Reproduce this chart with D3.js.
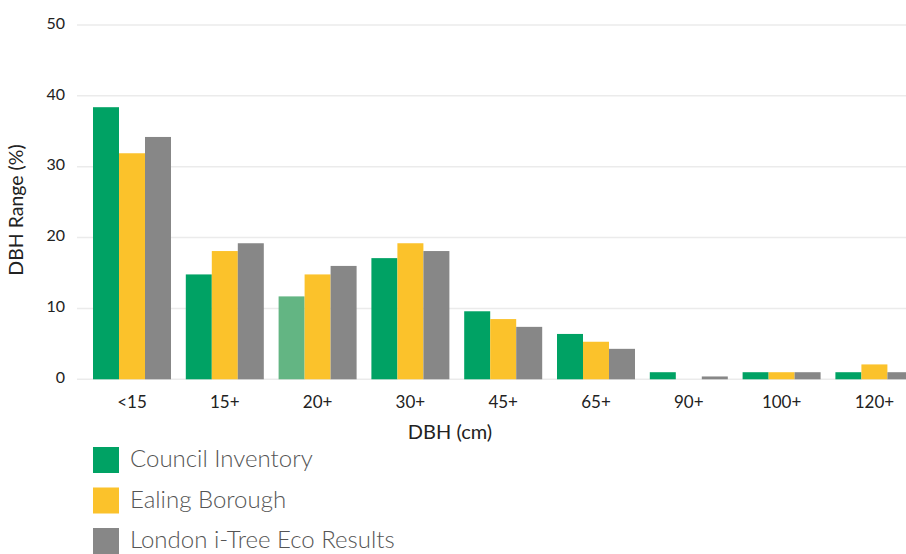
<!DOCTYPE html>
<html>
<head>
<meta charset="utf-8">
<script src="https://cdn.jsdelivr.net/npm/d3@7"></script>
<style>
html,body{margin:0;padding:0;background:#fff;}
svg{display:block;}
</style>
</head>
<body>
<svg id="chart" width="906" height="554"></svg>
<script>
const categories = ["<15","15+","20+","30+","45+","65+","90+","100+","120+"];
const seriesNames = ["Council Inventory","Ealing Borough","London i-Tree Eco Results"];
const councilInventory = [38.4,14.8,11.7,17.1,9.6,6.4,1.0,1.0,1.0];
const ealingBorough = [31.9,18.1,14.8,19.2,8.5,5.3,0,1.0,2.1];
const londonITree = [34.2,19.2,16.0,18.1,7.4,4.3,0.4,1.0,1.0];
const yTicks = [0,10,20,30,40,50];
const colors = ["#00A264","#FBC22B","#878787"];
const highlightColor = "#63B583";

const series = [councilInventory, ealingBorough, londonITree];
const svg = d3.select("#chart");
const W = 906, H = 554;
const fontFam = "Lato, 'Open Sans', sans-serif";

const y = d3.scaleLinear().domain([0,50]).range([379.3, 25]);
const step = 92.8, inner = 14.8/92.8, outer = 8/92.8;
const r0 = 85;
const r1 = r0 + step*(categories.length - inner + 2*outer);
const x0 = d3.scaleBand().domain(categories).range([r0, r1]).paddingInner(inner).paddingOuter(outer);
const x1 = d3.scaleBand().domain(d3.range(3)).range([0, x0.bandwidth()]);

// gridlines
svg.append("g").selectAll("line").data(yTicks).join("line")
  .attr("x1", 77).attr("x2", W)
  .attr("y1", d => y(d)).attr("y2", d => y(d))
  .attr("stroke", "#ebebeb").attr("stroke-width", 1.5);

// y axis labels
const yAxis = d3.axisLeft(y).tickValues(yTicks).tickSize(0).tickPadding(0);
const gy = svg.append("g").attr("transform","translate(65,0)").call(yAxis);
gy.select(".domain").remove();
gy.selectAll("text").attr("font-family", fontFam).attr("font-size", 16).attr("fill","#222").attr("dy","0.2em");

// bars
const groups = svg.append("g").selectAll("g").data(categories).join("g")
  .attr("transform", d => `translate(${x0(d)},0)`);
groups.selectAll("rect").data((c,i) => series.map((s,k) => ({k, v: s[i], cat: c}))).join("rect")
  .attr("x", d => x1(d.k)).attr("width", x1.bandwidth())
  .attr("y", d => y(d.v)).attr("height", d => y(0) - y(d.v))
  .attr("fill", d => (d.k === 0 && d.cat === "20+") ? highlightColor : colors[d.k]);

// x axis labels
const xAxis = d3.axisBottom(x0).tickSize(0).tickPadding(0);
const gx = svg.append("g").attr("transform","translate(0,402)").call(xAxis);
gx.select(".domain").remove();
gx.selectAll("text").attr("font-family", fontFam).attr("font-size", 17).attr("fill","#222").attr("dy","0.35em");

// axis titles
svg.append("text").attr("x", 450).attr("y", 432).attr("dy","0.35em").attr("text-anchor","middle")
  .attr("font-family", fontFam).attr("font-size", 20).attr("fill","#222").text("DBH (cm)");
svg.append("text").attr("transform","translate(16,210) rotate(-90)").attr("dy","0.35em").attr("text-anchor","middle")
  .attr("font-family", fontFam).attr("font-size", 19.5).attr("fill","#222").text("DBH Range (%)");

// legend
const leg = svg.append("g").selectAll("g").data(seriesNames).join("g")
  .attr("transform", (d,i) => `translate(93,${447 + i*40.5})`);
leg.append("rect").attr("width",26).attr("height",26).attr("fill",(d,i)=>colors[i]);
leg.append("text").attr("x",37).attr("y",12).attr("dy","0.35em")
  .attr("font-family", fontFam).attr("font-weight",300).attr("font-size",24).attr("fill","#555").text(d=>d);
</script>
</body>
</html>
